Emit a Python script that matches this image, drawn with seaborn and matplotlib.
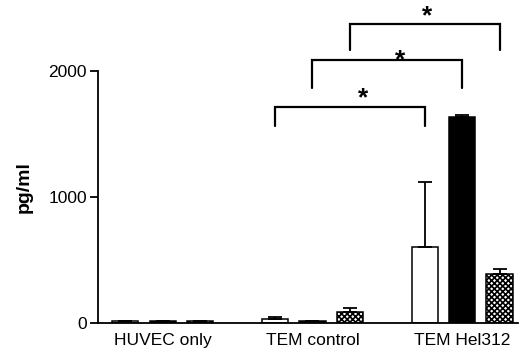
import matplotlib
matplotlib.use("Agg")
import matplotlib.pyplot as plt
import seaborn as sns
import pandas as pd

groups = ["HUVEC only", "TEM control", "TEM Hel312"]
conditions = ["open", "filled", "checkered"]
vals_open = [15, 30, 605]
vals_filled = [15, 12, 1635]
vals_check = [12, 90, 385]
err_open = [0, 15, 515]
err_filled = [0, 0, 15]
err_check = [0, 30, 40]
yticks = [0, 1000, 2000]
ylabel = "pg/ml"
brackets = [  # (condition, y of bar line, y of leg bottom, y star, star x shift)
    ("open", 1714, 1563, 1780, 0.087),
    ("filled", 2087, 1865, 2085, 0.087),
    ("checkered", 2373, 2167, 2435, 0.013),
]

rows = []
for c, vals, errs in zip(conditions, [vals_open, vals_filled, vals_check],
                         [err_open, err_filled, err_check]):
    for g, v, e in zip(groups, vals, errs):
        rows.append({"group": g, "cond": c, "value": v, "err": e})
df = pd.DataFrame(rows)

sns.set_theme(style="ticks")
plt.rcParams["font.family"] = ["Liberation Sans", "DejaVu Sans"]
plt.rcParams["hatch.linewidth"] = 1.2

fig = plt.figure(figsize=(5.27, 3.54), dpi=100)
ax = fig.add_axes([98 / 527, 31 / 354, 420 / 527, 323 / 354])

sns.barplot(data=df, x="group", y="value", hue="cond", order=groups,
            hue_order=conditions, palette=["white", "black", "white"],
            width=0.75, gap=0.3, errorbar=None, legend=False,
            edgecolor="black", linewidth=1.1, ax=ax)

centers = {}
for c, cont in zip(conditions, ax.containers):
    xs = []
    for bar in cont:
        if c == "checkered":
            bar.set_hatch("xxxxxx")
        xs.append(bar.get_x() + bar.get_width() / 2)
    centers[c] = xs
    sub = df[df["cond"] == c].set_index("group").loc[groups]
    ax.errorbar(xs, sub["value"], yerr=[[0] * len(xs), sub["err"]],
                fmt="none", ecolor="black", elinewidth=1.3, capsize=5,
                capthick=1.3, zorder=1)

for c, ytop, ybot, ystar, dx in brackets:
    x1 = centers[c][1]
    x2 = centers[c][2]
    ax.plot([x1, x1, x2, x2], [ybot, ytop, ytop, ybot], color="black",
            lw=1.6, clip_on=False, solid_joinstyle="miter")
    ax.text((x1 + x2) / 2 + dx, ystar, "*", ha="center", va="center",
            fontsize=19, fontweight="bold", color="black")

ax.set_xlim(-0.433, 2.373)
ax.set_ylim(0, 2563)
ax.set_yticks(yticks)
ax.set_yticklabels([str(t) for t in yticks], fontsize=12.5)
ax.spines["left"].set_bounds(0, 2000)
ax.spines["top"].set_visible(False)
ax.spines["right"].set_visible(False)
for s in ["left", "bottom"]:
    ax.spines[s].set_linewidth(1.3)
    ax.spines[s].set_color("black")
ax.tick_params(axis="y", length=6, width=1.3, color="black", pad=2,
               labelcolor="black")
ax.tick_params(axis="x", length=0, pad=7, labelsize=12.5, labelcolor="black")
ax.set_xlabel("")
ax.set_ylabel(ylabel, fontsize=14, fontweight="bold", color="black")
ax.yaxis.set_label_coords(-0.155, 0.421)

fig.savefig("out.png", dpi=100, facecolor="white")
